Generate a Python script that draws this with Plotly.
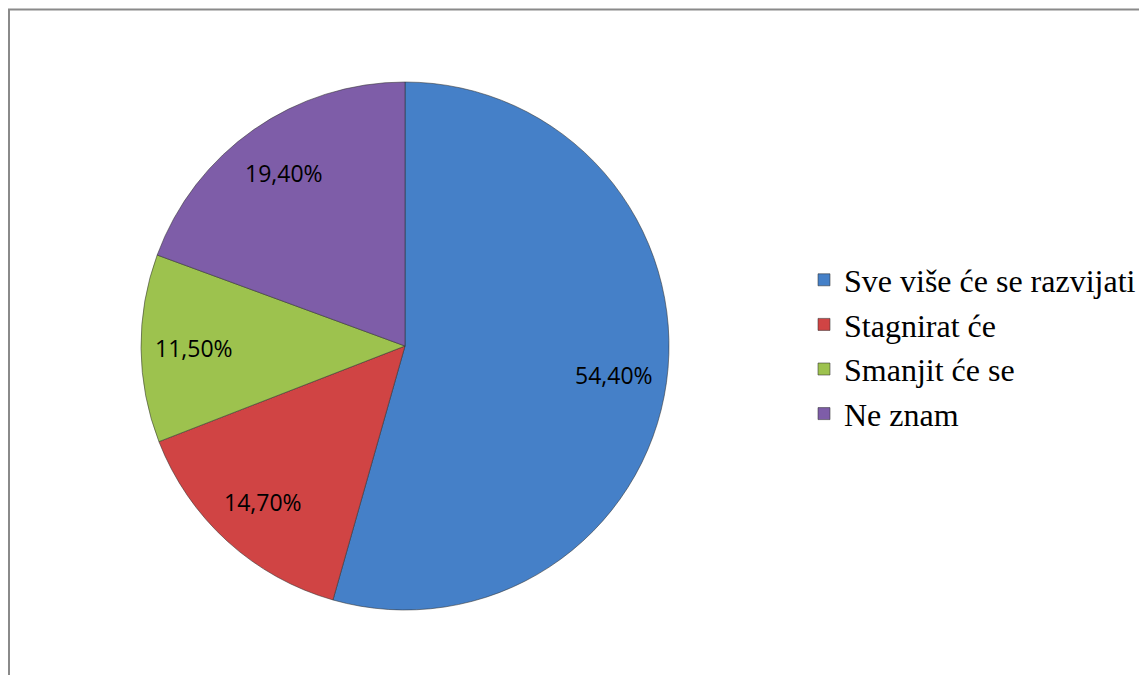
import math
import plotly.graph_objects as go

categories = ["Sve više će se razvijati", "Stagnirat će", "Smanjit će se", "Ne znam"]
values = [54.4, 14.7, 11.5, 19.4]
value_labels = ["54,40%", "14,70%", "11,50%", "19,40%"]
colors = ["#4580C8", "#D04444", "#9DC24E", "#7E5DA8"]

W, H = 1147, 675
# page has an 8px body margin; coordinates below are in figure pixels
cx, cy, r = 397, 338, 264
label_r = 0.80

fig = go.Figure(go.Pie(
    labels=categories,
    values=values,
    textinfo="none",
    sort=False,
    direction="clockwise",
    rotation=0,
    marker=dict(colors=colors, line=dict(color="rgba(50,50,50,0.55)", width=1)),
    domain=dict(x=[(cx - r) / W, (cx + r) / W], y=[(H - cy - r) / H, (H - cy + r) / H]),
    hovertext=value_labels,
    hoverinfo="label+text",
))

# data labels placed along each slice's mid angle
total = sum(values)
annotations = []
cum = 0.0
for v, t in zip(values, value_labels):
    mid = (cum + v / 2) / total * 2 * math.pi
    cum += v
    px = cx + label_r * r * math.sin(mid)
    py = cy - label_r * r * math.cos(mid)
    annotations.append(dict(
        x=px / W, y=(H - py) / H, xref="paper", yref="paper",
        text=t, showarrow=False, xanchor="center", yanchor="middle",
        font=dict(family="Open Sans", size=23, color="black"),
    ))

fig.update_layout(
    width=W, height=H,
    margin=dict(l=0, r=0, t=0, b=0),
    paper_bgcolor="white",
    showlegend=True,
    legend=dict(
        x=796 / W, xanchor="left",
        y=(H - 339) / H, yanchor="middle",
        font=dict(family="Liberation Serif", size=32, color="black"),
        bgcolor="rgba(0,0,0,0)",
    ),
    annotations=annotations,
    shapes=[dict(type="rect", xref="paper", yref="paper",
                 x0=1 / W, x1=1.2, y0=-0.2, y1=(H - 1.5) / H,
                 line=dict(color="#8a8a8a", width=2), fillcolor="rgba(0,0,0,0)")],
)

fig.write_html("out.html")
